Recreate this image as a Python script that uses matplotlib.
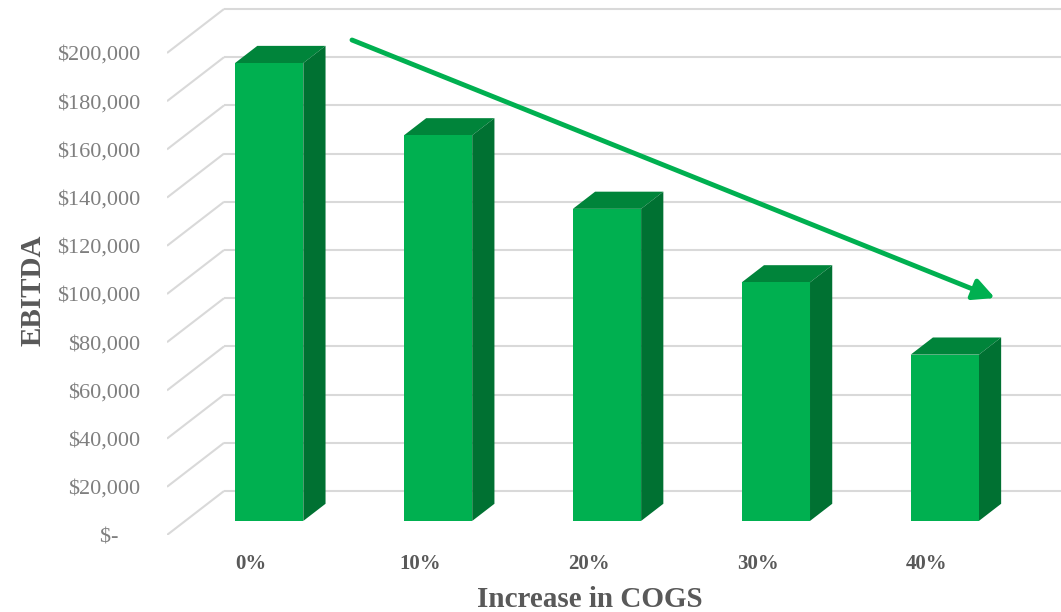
import matplotlib
matplotlib.use('Agg')
import matplotlib.pyplot as plt
from matplotlib.patches import Polygon

plt.rcParams['font.family'] = ['Liberation Serif', 'DejaVu Serif']

categories = ['0%', '10%', '20%', '30%', '40%']
ebitda = [190000, 160000, 129500, 99000, 69000]
yticks = [0, 20000, 40000, 60000, 80000, 100000, 120000, 140000, 160000, 180000, 200000]
ytick_labels = ['$-    ', '$20,000', '$40,000', '$60,000', '$80,000', '$100,000',
                '$120,000', '$140,000', '$160,000', '$180,000', '$200,000']

# fake 3d: depth offsets in data units (x in categories, y in dollars)
depth_x, depth_y = 0.3375, 18250
front_frac = 0.32          # where the bar front sits inside the depth
bar_frac = 0.39            # how deep the bar is
bar_w = 0.404

front_c = '#00B050'
top_c = '#00843A'
side_c = '#007132'
grid_c = '#D9D9D9'

fig = plt.figure(figsize=(10.61, 6.12), dpi=100)
ax = fig.add_axes([167 / 1061, 1 - 535 / 612, (1061 - 167) / 1061, 535 / 612])
x0, x1 = -0.497, 4.796
ax.set_xlim(x0, x1)
ax.set_ylim(0, 535 / 2.41 * 1000)

# side wall diagonals + back wall gridlines
for t in yticks:
    ax.plot([x0, x0 + depth_x], [t, t + depth_y], color=grid_c, lw=1.5, zorder=1,
            solid_capstyle='butt')
    ax.plot([x0 + depth_x, x1], [t + depth_y, t + depth_y], color=grid_c, lw=1.5,
            zorder=1, solid_capstyle='butt')

xs = list(range(len(categories)))
sx, sy = front_frac * depth_x, front_frac * depth_y
bx, by = bar_frac * depth_x, bar_frac * depth_y
bars = ax.bar([x + sx for x in xs], ebitda, width=bar_w, bottom=sy,
              color=front_c, zorder=4)
for rect in bars:
    l = rect.get_x()
    r = l + rect.get_width()
    b = rect.get_y()
    h = b + rect.get_height()
    ax.add_patch(Polygon([(l, h), (r, h), (r + bx, h + by), (l + bx, h + by)],
                         closed=True, color=top_c, zorder=3, lw=0))
    ax.add_patch(Polygon([(r, b), (r, h), (r + bx, h + by), (r + bx, b + by)],
                         closed=True, color=side_c, zorder=3, lw=0))

ax.set_yticks(yticks)
ax.set_yticklabels(ytick_labels)
ax.set_xticks(xs)
ax.set_xticklabels(categories, fontweight='bold')
ax.tick_params(axis='y', length=0, pad=19, labelsize=16, labelcolor='#7F7F7F')
ax.tick_params(axis='x', length=0, pad=14, labelsize=15, labelcolor='#595959')
for s in ax.spines.values():
    s.set_visible(False)

ax.set_xlabel('Increase in COGS', fontsize=21, fontweight='bold', color='#595959')
ax.xaxis.set_label_coords(0.473, -0.095)
ax.set_ylabel('EBITDA', fontsize=21, fontweight='bold', color='#595959')
ax.yaxis.set_label_coords(-0.135, 0.458)

ax.annotate('', xy=(995, 612 - 298), xytext=(352, 612 - 40),
            xycoords='figure pixels', textcoords='figure pixels',
            arrowprops=dict(arrowstyle='-|>', lw=3.5, color='#00B050',
                            mutation_scale=32, shrinkA=0, shrinkB=0))

fig.savefig('out.png', dpi=100)
